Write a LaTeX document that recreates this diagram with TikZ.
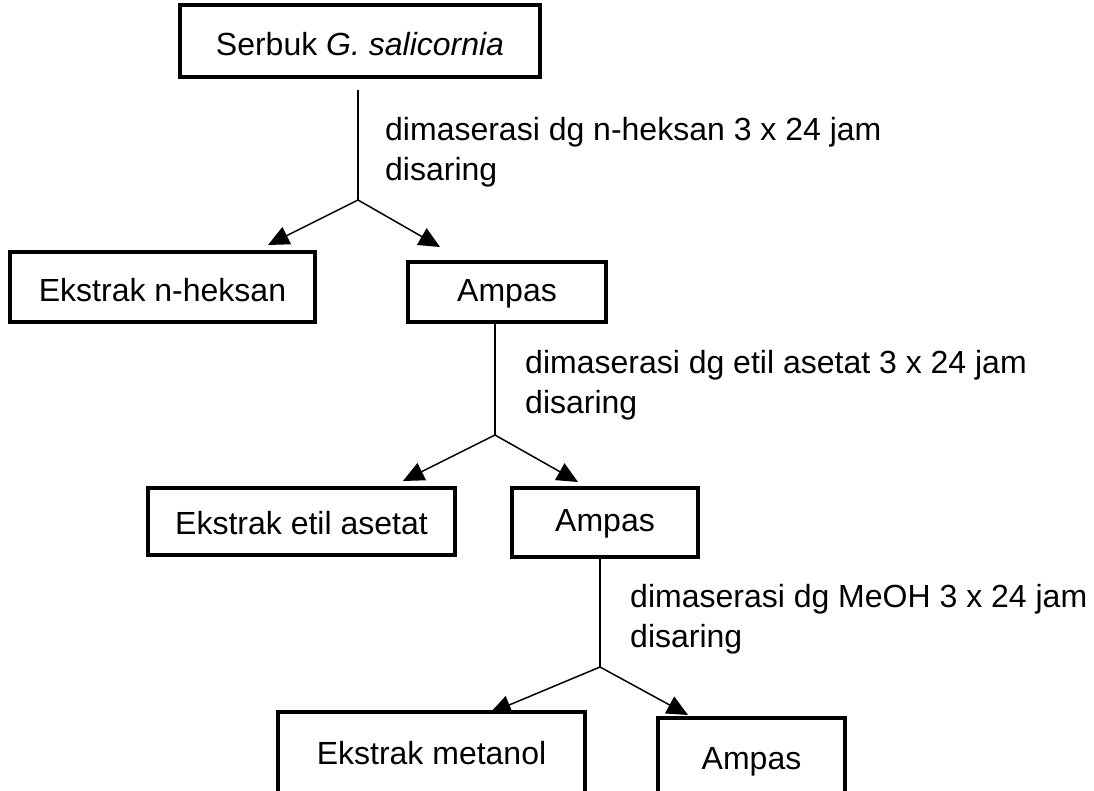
\documentclass[tikz,border=0pt]{standalone}
\usepackage{fontspec}
\setmainfont{Liberation Sans}
\usetikzlibrary{arrows.meta}
\begin{document}
\begin{tikzpicture}[x=1pt,y=-1pt,
  box/.style={draw, line width=3.2pt, rectangle, inner sep=0pt, font=\fontsize{32}{38}\selectfont},
  boxtext/.style={inner sep=0pt, font=\fontsize{32}{38}\selectfont},
  lbl/.style={anchor=west, align=left, inner sep=0pt, font=\fontsize{32}{40}\selectfont},
  conn/.style={line width=1.5pt},
  arr/.style={line width=1.5pt, -{Triangle[length=21pt,width=19pt]}}]
\useasboundingbox (0,0) rectangle (1094,790);
\begin{scope}
\clip (0,0) rectangle (1094,790);
\node[box, minimum width=360pt, minimum height=72pt] (s) at (360,41) {};
\node[boxtext] (st) at (360,44) {Serbuk \textit{G. salicornia}};
\node[box, minimum width=305pt, minimum height=70pt] (en) at (162.5,287) {};
\node[boxtext] (ent) at (162.5,290) {Ekstrak n-heksan};
\node[box, minimum width=198pt, minimum height=60pt] (a1) at (507,292) {};
\node[boxtext] (a1t) at (507,294) {Ampas};
\node[box, minimum width=307pt, minimum height=67pt] (ee) at (301.5,521.5) {};
\node[boxtext] (eet) at (301.5,523.5) {Ekstrak etil asetat};
\node[box, minimum width=186pt, minimum height=69pt] (a2) at (605,522.5) {};
\node[boxtext] (a2t) at (605,523.5) {Ampas};
\node[box, minimum width=307pt, minimum height=100pt] (em) at (431.5,762) {};
\node[boxtext] (emt) at (431.5,753) {Ekstrak metanol};
\node[box, minimum width=187pt, minimum height=94pt] (a3) at (751.5,765) {};
\node[boxtext] (a3t) at (751.5,762) {Ampas};

\coordinate (t1) at (358,90);
\coordinate (b1) at (358,200);
\coordinate (l1) at (268,245);
\coordinate (r1) at (440,247);
\coordinate (b2) at (495,435);
\coordinate (l2) at (403,481);
\coordinate (r2) at (578,482);
\coordinate (b3) at (600,667);
\coordinate (l3) at (490,713);
\coordinate (r3) at (688,715);

\draw[conn] (t1) -- (b1);
\draw[arr] (b1) -- (l1);
\draw[arr] (b1) -- (r1);
\draw[conn] (a1.south -| b2) -- (b2);
\draw[arr] (b2) -- (l2);
\draw[arr] (b2) -- (r2);
\draw[conn] (a2.south -| b3) -- (b3);
\draw[arr] (b3) -- (l3);
\draw[arr] (b3) -- (r3);

\node[lbl] (m1) at (385,152) {dimaserasi dg n-heksan 3 x 24 jam\\disaring};
\node[lbl] (m2) at (525,385) {dimaserasi dg etil asetat 3 x 24 jam\\disaring};
\node[lbl] (m3) at (630,619) {dimaserasi dg MeOH 3 x 24 jam\\disaring};
\end{scope}
\end{tikzpicture}
\end{document}
